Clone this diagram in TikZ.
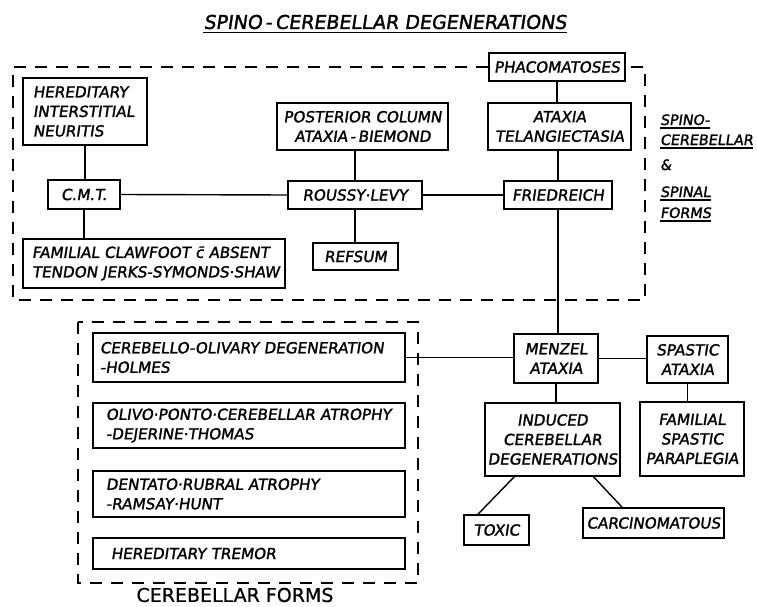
\documentclass[tikz,border=0pt]{standalone}
\usepackage{fontspec}
\usetikzlibrary{calc}
\newfontfamily\lett{DejaVu Sans}[FakeSlant=0.15,FakeBold=1.6]
\newfontfamily\uprt{DejaVu Sans}[FakeBold=0.8]
\newcommand\bodyf{\lett\fontsize{15.2}{19.5}\selectfont}
\newcommand\oneline[1]{\mbox{#1}}
\begin{document}
\begin{tikzpicture}[x=1pt,y=-1pt,
  box/.style={draw, line width=1.4pt, inner sep=0pt, font=\bodyf},
  cbox/.style={box, align=center},
  lbox/.style={box, align=left},
  conn/.style={line width=1.4pt},
  dashbox/.style={line width=1.3pt, dash pattern=on 12pt off 9pt},
  uline/.style={line width=1.4pt},
  lab/.style={inner sep=0pt, anchor=base west, font=\lett\fontsize{14.3}{19.5}\selectfont}]
\useasboundingbox (0,0) rectangle (757,607);

% title
\node[inner sep=0pt, font=\lett\fontsize{19}{24}\selectfont] (title) at (385,22) {SPINO\,-\,CEREBELLAR DEGENERATIONS};
\draw[uline] ([yshift=-3.5pt]title.base west) -- ([yshift=-3.5pt]title.base east);

% spinal forms
\node[cbox, minimum width=136pt, minimum height=28pt] (phaco) at (557,67) {PHACOMATOSES};
\node[lbox, text width=104pt, inner xsep=10pt, minimum height=67pt] (hin) at (85,111.5) {\oneline{HEREDITARY}\\\oneline{INTERSTITIAL}\\\oneline{NEURITIS}};
\node[cbox, minimum width=171pt, minimum height=47pt] (post) at (362.5,126.5) {POSTERIOR COLUMN\\ATAXIA\,-\,BIEMOND};
\node[cbox, minimum width=143pt, minimum height=47pt] (atel) at (559.5,126.5) {ATAXIA\\TELANGIECTASIA};
\node[cbox, minimum width=72pt, minimum height=29pt] (cmt) at (84,194.5) {C.M.T.};
\node[cbox, minimum width=134pt, minimum height=28pt] (roussy) at (355,195) {ROUSSY·LEVY};
\node[cbox, minimum width=108pt, minimum height=28pt] (fried) at (558,195) {FRIEDREICH};
\node[lbox, text width=244pt, inner xsep=9pt, minimum height=49pt] (fam) at (154,263.5) {\oneline{FAMILIAL CLAWFOOT \={c} ABSENT}\\\oneline{TENDON JERKS-SYMONDS·SHAW}};
\node[cbox, minimum width=85pt, minimum height=27pt] (refsum) at (355.5,256.5) {REFSUM};

\draw[dashbox] (phaco.west) -- (13,67) -- (13,300) -- (645,300) -- (645,67) -- (phaco.east);

\node[lab] (l1) at (660,125) {SPINO-};
\node[lab] (l2) at (660,145) {CEREBELLAR};
\node[lab] (l3) at (660,170) {\&};
\node[lab] (l4) at (660,197) {SPINAL};
\node[lab] (l5) at (660,218) {FORMS};
\foreach \n in {l1,l2,l4,l5}
  \draw[uline] ([yshift=-3pt]\n.base west) -- ([yshift=-3pt]\n.base east);

\draw[conn] (hin.south) -- (hin.south |- cmt.north);
\draw[conn] (cmt.south) -- (cmt.south |- fam.north);
\draw[conn] (cmt.east) -- (roussy.west);
\draw[conn] (roussy.north |- post.south) -- (roussy.north);
\draw[conn] (roussy.south) -- (roussy.south |- refsum.north);
\draw[conn] (roussy.east) -- (fried.west);
\draw[conn] (phaco.south) -- (phaco.south |- atel.north);
\draw[conn] (fried.north |- atel.south) -- (fried.north);

% cerebellar forms
\draw[dashbox] (78,322) rectangle (418,583);
\node[lbox, text width=298pt, inner xsep=7pt, minimum height=49pt] (co) at (249,357.5) {\oneline{CEREBELLO-OLIVARY DEGENERATION}\\\oneline{-HOLMES}};
\node[lbox, text width=286pt, inner xsep=13pt, minimum height=45pt] (op) at (249,425.5) {\oneline{OLIVO·PONTO·CEREBELLAR ATROPHY}\\\oneline{-DEJERINE·THOMAS}};
\node[lbox, text width=286pt, inner xsep=13pt, minimum height=46pt] (dr) at (249,494) {\oneline{DENTATO·RUBRAL ATROPHY}\\\oneline{-RAMSAY·HUNT}};
\node[lbox, text width=276pt, inner xsep=18pt, minimum height=31pt] (ht) at (249,553.5) {\oneline{HEREDITARY TREMOR}};
\node[inner sep=0pt, font=\uprt\fontsize{19}{22}\selectfont] (cf) at (235,595) {CEREBELLAR FORMS};

% right lower
\node[cbox, minimum width=84pt, minimum height=49pt] (menzel) at (556,358.5) {MENZEL\\ATAXIA};
\node[cbox, minimum width=81pt, minimum height=47pt] (spastic) at (687.5,359.5) {SPASTIC\\ATAXIA};
\node[cbox, minimum width=135pt, minimum height=73pt] (induced) at (552.5,439.5) {INDUCED\\CEREBELLAR\\DEGENERATIONS};
\node[cbox, minimum width=104pt, minimum height=74pt] (fsp) at (692,439) {FAMILIAL\\SPASTIC\\PARAPLEGIA};
\node[cbox, minimum width=65pt, minimum height=30pt] (toxic) at (496.5,530) {TOXIC};
\node[cbox, minimum width=141pt, minimum height=30pt] (carc) at (653.5,523) {CARCINOMATOUS};

\draw[conn] (fried.south) -- (fried.south |- menzel.north);
\draw[conn] (co.east) -- (co.east -| menzel.west);
\draw[conn] (menzel.east) -- (menzel.east -| spastic.west);
\draw[conn] (menzel.south) -- (menzel.south |- induced.north);
\draw[conn] (spastic.south) -- (spastic.south |- fsp.north);
\draw[conn] ($(induced.south west)!0.22!(induced.south east)$) -- ($(toxic.north west)!0.22!(toxic.north east)$);
\draw[conn] ($(induced.south west)!0.8!(induced.south east)$) -- ($(carc.north west)!0.28!(carc.north east)$);
\end{tikzpicture}
\end{document}
